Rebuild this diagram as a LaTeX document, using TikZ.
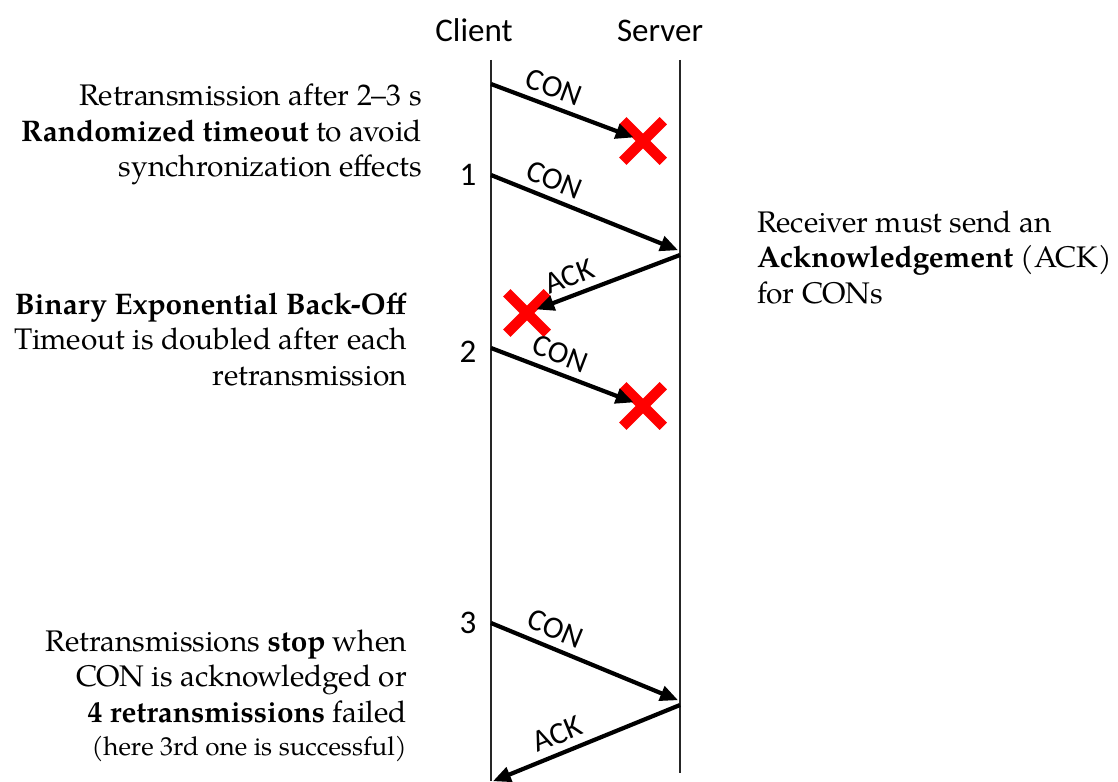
\documentclass[tikz,border=0pt]{standalone}
\usepackage{fontspec}
\setmainfont{TeX Gyre Pagella}
\newfontfamily\calfont{Carlito}
\usetikzlibrary{arrows.meta,shapes.misc}

\begin{document}
\begin{tikzpicture}[x=1pt,y=-1pt,
  lifeline/.style={line width=2.5pt, draw=black!85},
  actor/.style={font=\calfont\fontsize{33}{40}\selectfont, anchor=base, inner sep=0pt},
  seqno/.style={font=\calfont\fontsize{33}{40}\selectfont, anchor=base, inner sep=0pt},
  msg/.style={line width=4.2pt, -{Triangle[length=18pt,width=15pt]}},
  msglabel/.style={font=\calfont\fontsize{31}{36}\selectfont, sloped, above=7pt, inner sep=0pt},
  lost/.style={cross out, draw=red, line width=10.5pt, minimum size=30pt, inner sep=0pt},
  note/.style={font=\fontsize{29.8}{35.5}\selectfont, inner sep=0pt},
]
\useasboundingbox (0,0) rectangle (1118,781);

% actors and lifelines
\node[actor] (client) at (474,42) {Client};
\node[actor] (server) at (660,42) {Server};
\coordinate (ctop) at (491,60);
\coordinate (cbot) at (491,781);
\coordinate (stop) at (680,60);
\coordinate (sbot) at (680,773);
\draw[lifeline] (ctop) -- (cbot);
\draw[lifeline] (stop) -- (sbot);

% retransmission counters
\node[seqno] (n1) at (468,185) {1};
\node[seqno] (n2) at (468,362) {2};
\node[seqno] (n3) at (468,633) {3};

% message end points
\coordinate (c1) at (491,84);
\coordinate (c2) at (491,175);
\coordinate (s2) at (680,251);
\coordinate (s3) at (680,255);
\coordinate (c4) at (491,348);
\coordinate (c5) at (491,623);
\coordinate (s5) at (680,701);
\coordinate (s6) at (680,705);
\coordinate (c6) at (491,782);

% lost messages
\node[lost] (lost1) at (643,141) {};
\node[lost] (lost2) at (527,313) {};
\node[lost] (lost3) at (643,406) {};

% messages
\draw[msg, shorten >=10pt] (c1) -- node[msglabel, pos=0.37] {CON} (lost1.center);
\draw[msg, shorten >=2pt] (c2) -- node[msglabel, pos=0.30] {CON} (s2);
\draw[msg, shorten >=10pt] (s3) -- node[msglabel, pos=0.68] {ACK} (lost2.center);
\draw[msg, shorten >=10pt] (c4) -- node[msglabel, pos=0.41] {CON} (lost3.center);
\draw[msg, shorten >=2pt] (c5) -- node[msglabel, pos=0.30] {CON} (s5);
\draw[msg, shorten >=2pt] (s6) -- node[msglabel, pos=0.61] {ACK} (c6);

% explanations
\node[note, align=right, anchor=north east] (timeout) at (422,84)
  {Retransmission after 2--3 s\\ \textbf{Randomized timeout} to avoid\\ synchronization effects};
\node[note, align=right, anchor=north east] (backoff) at (407,292.5)
  {\textbf{Binary Exponential Back-Off}\\ Timeout is doubled after each\\ retransmission};
\node[note, align=right, anchor=north east] (stopnote) at (407,629.5)
  {Retransmissions \textbf{stop} when\\ CON is acknowledged or\\ \textbf{4 retransmissions} failed\\[-2pt]
   {\fontsize{26}{31}\selectfont (here 3rd one is successful)}};
\node[note, align=left, anchor=north west] (acknote) at (757,210.5)
  {Receiver must send an\\ \textbf{Acknowledgement} (ACK)\\ for CONs};
\end{tikzpicture}
\end{document}
